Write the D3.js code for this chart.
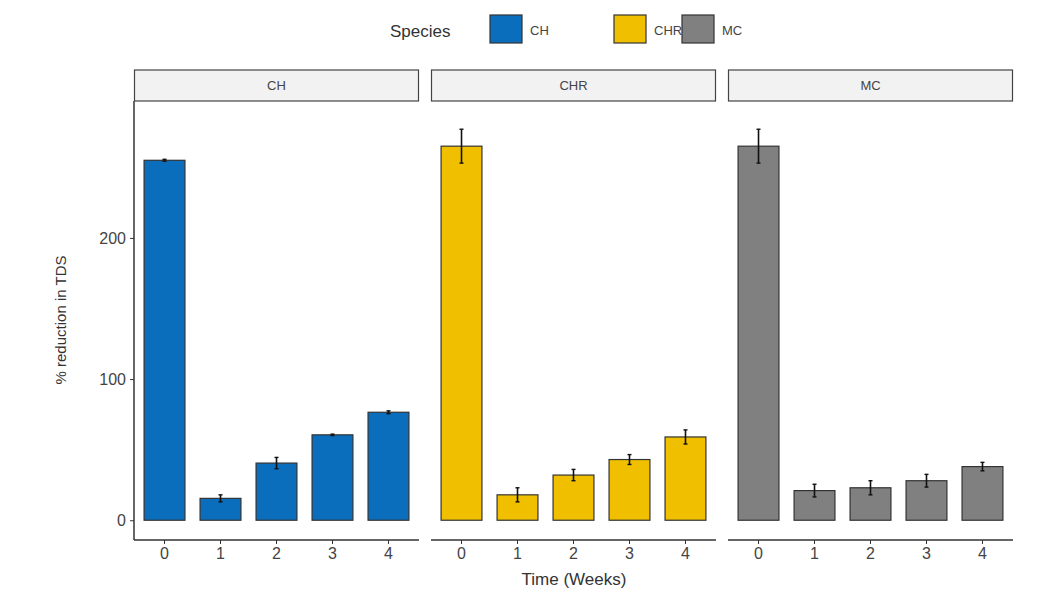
<!DOCTYPE html>
<html><head><meta charset="utf-8">
<script src="https://cdn.jsdelivr.net/npm/d3@7"></script>
<style>body{margin:0;background:#fff;font-family:"Liberation Sans",Arial,sans-serif}</style>
</head><body><div id="chart"></div>
<script>
const species = ["CH", "CHR", "MC"];
const weeks = ["0", "1", "2", "3", "4"];
const colors = ["#0a6ebd", "#f0c000", "#808080"];
const means = [
  [255, 15.5, 40.5, 60.5, 76.5],
  [265, 18, 32, 43, 59],
  [265, 21, 23, 28, 38]
];
const errs = [
  [0.7, 2.5, 4, 0.5, 1],
  [12, 5, 4, 3.5, 5],
  [12, 4.5, 5, 4.5, 3]
];
const yTicks = [0, 100, 200];

const width = 1038, height = 606;
const svg = d3.select("#chart").append("svg").attr("width", width).attr("height", height);

const panelX = [134, 431, 728], panelW = 285;
const plotTop = 101, plotBottom = 540;

const y = d3.scaleLinear().domain([-14, 297]).range([plotBottom, plotTop]);

// y axis
const yAx = svg.append("g").attr("transform", `translate(${panelX[0]},0)`)
  .call(d3.axisLeft(y).tickValues(yTicks).tickSize(4).tickPadding(4));
yAx.select(".domain").remove();
yAx.append("line").attr("y1", plotTop).attr("y2", plotBottom).attr("stroke", "#333").attr("stroke-width", 1.5);
yAx.selectAll(".tick line").attr("stroke", "#333");
yAx.selectAll("text").attr("font-size", 16).attr("fill", "#444");

species.forEach((s, i) => {
  const g = svg.append("g").attr("transform", `translate(${panelX[i]},0)`);
  const x = d3.scaleBand().domain(weeks).range([0, panelW]).paddingInner(0.27).paddingOuter(0.18);

  // strip
  g.append("rect").attr("x", 0.5).attr("y", 70).attr("width", panelW - 1).attr("height", plotTop - 70)
    .attr("fill", "#f2f2f2").attr("stroke", "#444").attr("stroke-width", 1.2);
  g.append("text").attr("x", panelW / 2).attr("y", 90).attr("text-anchor", "middle")
    .attr("font-size", 13).attr("fill", "#444").text(s);

  // bars
  g.selectAll("rect.bar").data(means[i]).enter().append("rect")
    .attr("class", "bar")
    .attr("x", (d, j) => x(weeks[j]))
    .attr("width", x.bandwidth())
    .attr("y", d => y(d))
    .attr("height", d => y(0) - y(d))
    .attr("fill", colors[i]).attr("stroke", "#333").attr("stroke-width", 1.2);

  // error bars
  means[i].forEach((m, j) => {
    const cx = x(weeks[j]) + x.bandwidth() / 2;
    const e = errs[i][j];
    g.append("line").attr("x1", cx).attr("x2", cx).attr("y1", y(m - e)).attr("y2", y(m + e))
      .attr("stroke", "#111").attr("stroke-width", 1.6);
    [m - e, m + e].forEach(v => g.append("line").attr("x1", cx - 2).attr("x2", cx + 2)
      .attr("y1", y(v)).attr("y2", y(v)).attr("stroke", "#111").attr("stroke-width", 1.4));
  });

  // x axis
  const xAx = g.append("g").attr("transform", `translate(0,${plotBottom})`)
    .call(d3.axisBottom(x).tickSize(4).tickPadding(4));
  xAx.select(".domain").remove();
  xAx.append("line").attr("x1", 0).attr("x2", panelW).attr("stroke", "#333").attr("stroke-width", 1.5);
  xAx.selectAll(".tick line").attr("stroke", "#333");
  xAx.selectAll("text").attr("font-size", 16).attr("fill", "#444");
});

// axis titles
svg.append("text").attr("x", 574).attr("y", 585).attr("text-anchor", "middle")
  .attr("font-size", 17).attr("fill", "#333").text("Time (Weeks)");
svg.append("text").attr("transform", "translate(66,320) rotate(-90)").attr("text-anchor", "middle")
  .attr("font-size", 15).attr("fill", "#333").text("% reduction in TDS");

// legend
const leg = svg.append("g");
leg.append("text").attr("x", 390).attr("y", 37).attr("font-size", 17).attr("fill", "#333").text("Species");
const legX = [490, 614, 682];
species.forEach((s, i) => {
  leg.append("rect").attr("x", legX[i]).attr("y", 15).attr("width", 32).attr("height", 28)
    .attr("fill", colors[i]).attr("stroke", "#333").attr("stroke-width", 1.2);
  leg.append("text").attr("x", legX[i] + 40).attr("y", 35).attr("font-size", 13).attr("fill", "#444").text(s);
});
</script></body></html>
